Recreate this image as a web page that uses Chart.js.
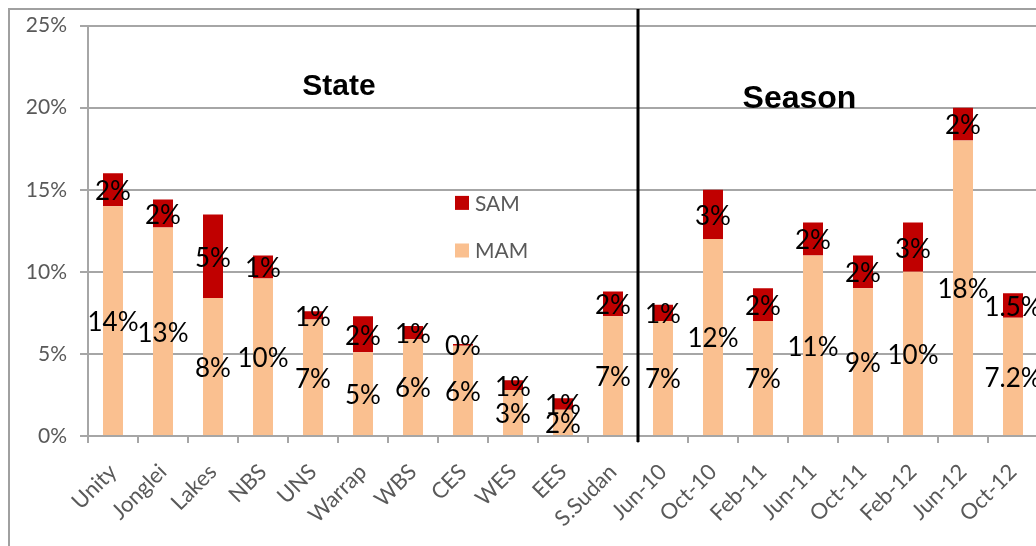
<!DOCTYPE html>
<html>
<head>
<meta charset="utf-8">
<script src="https://cdn.jsdelivr.net/npm/chart.js@4.4.1/dist/chart.umd.min.js"></script>
<style>
  html, body { margin: 0; padding: 0; background: #ffffff; overflow: hidden; }
  #wrap { position: relative; width: 1060px; height: 546px; }
</style>
</head>
<body>
<div id="wrap"><canvas id="chart" width="1060" height="546"></canvas></div>
<script>
// Acute malnutrition prevalence by state and by survey season
const categories = ['Unity', 'Jonglei', 'Lakes', 'NBS', 'UNS', 'Warrap', 'WBS', 'CES', 'WES', 'EES', 'S.Sudan',
                    'Jun-10', 'Oct-10', 'Feb-11', 'Jun-11', 'Oct-11', 'Feb-12', 'Jun-12', 'Oct-12'];
const mamValues = [14.0, 12.7, 8.4, 9.6, 7.1, 5.1, 5.9, 5.5, 2.8, 1.6, 7.3,
                   7, 12, 7, 11, 9, 10, 18, 7.2];
const samValues = [2.0, 1.7, 5.1, 1.4, 0.5, 2.2, 0.8, 0.1, 0.6, 0.7, 1.5,
                   1, 3, 2, 2, 2, 3, 2, 1.5];
const labelDecimals = [0, 0, 0, 0, 0, 0, 0, 0, 0, 0, 0,
                       0, 0, 0, 0, 0, 0, 0, 1];
const yTicks = [0, 5, 10, 15, 20, 25];
const groupTitles = ['State', 'Season'];
const seriesNames = ['MAM', 'SAM'];

const MAM_COLOR = '#FAC090';
const SAM_COLOR = '#C00000';
const GRID = '#a6a6a6';
const TICK_TEXT = '#595959';
const BODY_FONT = 'Lato, "Open Sans", sans-serif';

function fmt(v, d) {
  return (d > 0 ? v.toFixed(d) : String(Math.round(v))) + '%';
}

// helpers mapping fractional category index / value to pixels
function xAt(chart, i) {
  const x = chart.scales.x;
  const p0 = x.getPixelForValue(0), p1 = x.getPixelForValue(1);
  return p0 + i * (p1 - p0);
}
function yAt(chart, v) { return chart.scales.y.getPixelForValue(v); }

const decorations = {
  id: 'decorations',
  beforeDraw(chart) {
    const ctx = chart.ctx;
    ctx.save();
    ctx.fillStyle = '#ffffff';
    ctx.fillRect(0, 0, chart.width, chart.height);
    // outer frame
    ctx.strokeStyle = '#a0a0a0';
    ctx.lineWidth = 2;
    ctx.strokeRect(9, 9, chart.width + 20, chart.height + 20);
    ctx.restore();
  },
  afterDatasetsDraw(chart) {
    const ctx = chart.ctx;
    const area = chart.chartArea;
    ctx.save();

    // value labels centred in each segment
    ctx.fillStyle = '#000000';
    ctx.textAlign = 'center';
    ctx.textBaseline = 'middle';
    ctx.font = '26px ' + BODY_FONT;
    chart.data.datasets.forEach((ds, di) => {
      const meta = chart.getDatasetMeta(di);
      meta.data.forEach((bar, i) => {
        const p = bar.getProps(['x', 'y', 'base'], true);
        ctx.fillText(fmt(ds.data[i], labelDecimals[i]), p.x, (p.y + p.base) / 2 + 2);
      });
    });

    // divider between the state and season groups
    const xd = xAt(chart, 10.5);
    ctx.strokeStyle = '#000000';
    ctx.lineWidth = 3;
    ctx.beginPath();
    ctx.moveTo(xd, 9);
    ctx.lineTo(xd, area.bottom + 6);
    ctx.stroke();

    // group titles
    ctx.font = 'bold 30px "Liberation Sans", Arial, sans-serif';
    ctx.textBaseline = 'alphabetic';
    ctx.fillText(groupTitles[0], xAt(chart, 4.52), yAt(chart, 20.8));
    ctx.font = 'bold 32px "Liberation Sans", Arial, sans-serif';
    ctx.fillText(groupTitles[1], xAt(chart, 13.73), yAt(chart, 20.0));

    // legend
    const lx = xAt(chart, 6.84);
    const tx = xAt(chart, 7.24);
    const rows = [[seriesNames[1], SAM_COLOR, 14.2], [seriesNames[0], MAM_COLOR, 11.3]];
    ctx.font = '21px ' + BODY_FONT;
    ctx.textAlign = 'left';
    ctx.textBaseline = 'middle';
    rows.forEach(([name, color, v]) => {
      const cy = yAt(chart, v);
      ctx.fillStyle = color;
      ctx.fillRect(lx, cy - 7, 14, 14);
      ctx.fillStyle = TICK_TEXT;
      ctx.fillText(name, tx, cy + 1);
    });
    ctx.restore();
  }
};

new Chart(document.getElementById('chart'), {
  type: 'bar',
  data: {
    labels: categories,
    datasets: [
      { label: seriesNames[0], data: mamValues, backgroundColor: MAM_COLOR,
        categoryPercentage: 1, barPercentage: 0.4 },
      { label: seriesNames[1], data: samValues, backgroundColor: SAM_COLOR,
        categoryPercentage: 1, barPercentage: 0.4 }
    ]
  },
  options: {
    responsive: false,
    animation: false,
    devicePixelRatio: 1,
    layout: { padding: { left: 8, top: 24, right: 22, bottom: 0 } },
    plugins: { legend: { display: false }, tooltip: { enabled: false } },
    scales: {
      x: {
        stacked: true,
        offset: true,
        grid: { display: true, drawOnChartArea: false, drawTicks: true, tickLength: 7,
                color: GRID, lineWidth: 2, offset: true },
        border: { color: GRID, width: 2 },
        ticks: { color: TICK_TEXT, font: { family: BODY_FONT, size: 22 },
                 minRotation: 45, maxRotation: 45, padding: 16, autoSkip: false },
        afterFit(scale) { scale.height = 110; }
      },
      y: {
        stacked: true,
        min: 0, max: 25,
        afterBuildTicks(scale) { scale.ticks = yTicks.map(v => ({ value: v })); },
        grid: { color: GRID, lineWidth: 2, drawTicks: true, tickLength: 8 },
        border: { color: GRID, width: 2 },
        ticks: { color: TICK_TEXT, font: { family: BODY_FONT, size: 21 }, padding: 13,
                 callback: v => v + '%' },
        afterFit(scale) { scale.width = 80; }
      }
    }
  },
  plugins: [decorations]
});
</script>
</body>
</html>
